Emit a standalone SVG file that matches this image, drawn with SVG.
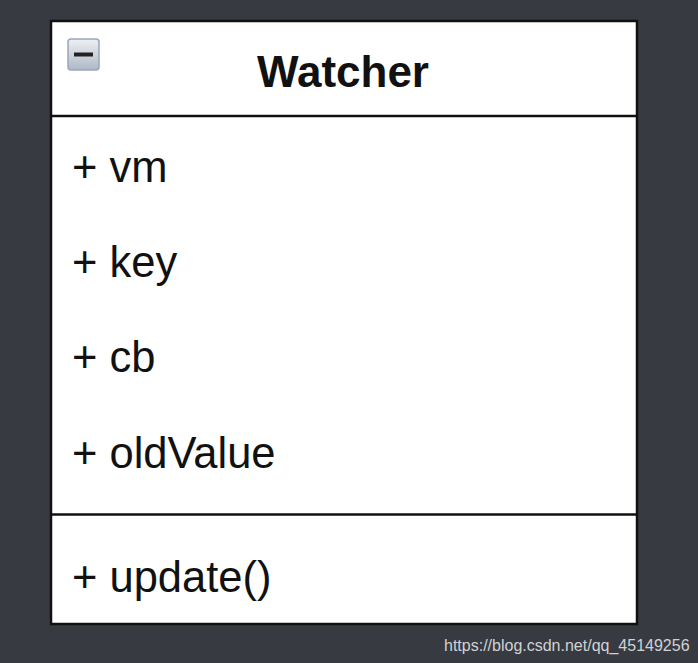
<svg xmlns="http://www.w3.org/2000/svg" width="698" height="663" viewBox="0 0 698 663">
<style>
.attr{font-family:"Liberation Sans",Arial,sans-serif;font-size:43.5px;fill:#111}
.title{font-family:"Liberation Sans",Arial,sans-serif;font-size:44px;font-weight:bold;fill:#111}
.line{stroke:#111;stroke-width:2.5}
</style>
<defs>
<linearGradient id="ig" x1="0" y1="0" x2="0" y2="1">
<stop offset="0" stop-color="#eef0f4"/>
<stop offset="1" stop-color="#aeb8c6"/>
</linearGradient>
</defs>
<rect width="698" height="663" fill="#373a40"/>
<g id="watcher">
<rect x="51" y="21" width="586" height="603" fill="#fff" stroke="#111" stroke-width="2.5"/>
<line class="line" x1="51" y1="116" x2="637" y2="116"/>
<line class="line" x1="51" y1="514.5" x2="637" y2="514.5"/>
<rect x="68" y="39" width="31" height="31" rx="3" fill="url(#ig)" stroke="#9aa7b8" stroke-width="1.5"/>
<rect x="74" y="52.5" width="19" height="4" fill="#222"/>
<text class="title" x="343" y="87" text-anchor="middle">Watcher</text>
<text class="attr" x="72" y="182">+ vm</text>
<text class="attr" x="72" y="277">+ key</text>
<text class="attr" x="72" y="372">+ cb</text>
<text class="attr" x="72" y="468">+ oldValue</text>
<text class="attr" x="72" y="592">+ update()</text>
</g>
<g id="connectors"/>
<text x="444" y="651" font-family="'Liberation Sans',Arial,sans-serif" font-size="16" fill="#d0d2d6">https://blog.csdn.net/qq_45149256</text>
</svg>
